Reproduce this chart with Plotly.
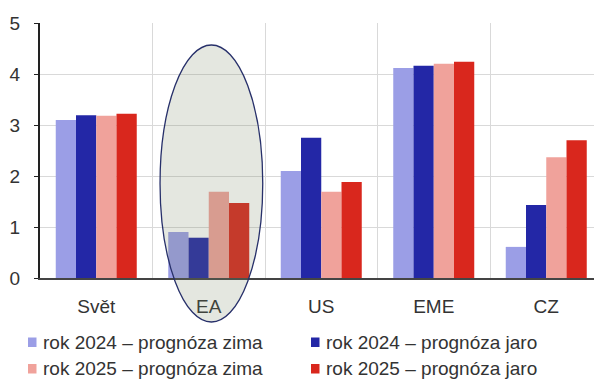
import plotly.graph_objects as go

categories = ["Svět", "EA", "US", "EME", "CZ"]
series_names = [
    "rok 2024 – prognóza zima",
    "rok 2024 – prognóza jaro",
    "rok 2025 – prognóza zima",
    "rok 2025 – prognóza jaro",
]
r2024_zima = [3.10, 0.90, 2.10, 4.12, 0.61]
r2024_jaro = [3.19, 0.79, 2.75, 4.16, 1.43]
r2025_zima = [3.18, 1.69, 1.69, 4.20, 2.37]
r2025_jaro = [3.22, 1.47, 1.88, 4.24, 2.70]
series_values = [r2024_zima, r2024_jaro, r2025_zima, r2025_jaro]
colors = ["#9b9ee6", "#2327a6", "#f0a29b", "#d9271d"]
y_ticks = [0, 1, 2, 3, 4, 5]

FONT = "Liberation Sans, Arial, sans-serif"
W, H = 594, 383
ML, MR, MT, MB = 40, 0, 23, 105
PW, PH = W - ML - MR, H - MT - MB

fig = go.Figure()
for name, vals, col in zip(series_names, series_values, colors):
    fig.add_trace(go.Bar(x=categories, y=vals, name=name, marker=dict(color=col, line=dict(width=0)),
                         showlegend=False))

cat_w = 112.5
fig.update_layout(
    width=W, height=H,
    margin=dict(l=ML, r=MR, t=MT, b=MB, autoexpand=False),
    paper_bgcolor="white", plot_bgcolor="white",
    barmode="group", bargap=0.28, bargroupgap=0,
    font=dict(family=FONT, size=19, color="#333333"),
    xaxis=dict(range=[-0.5, -0.5 + PW / cat_w], tickson="boundaries", showgrid=True,
               gridcolor="#d9d9d9", gridwidth=1, showline=True, linecolor="#444444", linewidth=2,
               ticks="", tickfont=dict(size=19, color="#333333"), ticklabelstandoff=10,
               automargin=False, fixedrange=True),
    yaxis=dict(range=[0, 5], tickvals=y_ticks, showgrid=True, gridcolor="#d9d9d9", gridwidth=1,
               showline=True, linecolor="#222222", linewidth=2, ticks="outside", ticklen=4,
               tickcolor="#222222", tickfont=dict(size=19, color="#333333"), ticklabelstandoff=10,
               zeroline=False, automargin=False, fixedrange=True),
)

def py2paper(py):
    return (MT + PH - py) / PH

def px2paper(px):
    return (px - ML) / PW

# highlight ellipse around EA
ea = categories.index("EA")
fig.add_shape(type="circle", xref="x", yref="paper",
              x0=ea - 0.433, x1=ea + 0.48, y0=py2paper(322), y1=py2paper(45),
              fillcolor="rgba(120,135,100,0.20)", line=dict(color="#27306a", width=1.3),
              layer="above")

# legend drawn below the chart
leg_pos = [(28, 342), (311, 342), (28, 368.5), (311, 368.5)]
for (lx, ly), name, col in zip(leg_pos, series_names, colors):
    fig.add_shape(type="rect", xref="paper", yref="paper",
                  x0=px2paper(lx), x1=px2paper(lx + 8.5), y0=py2paper(ly + 5), y1=py2paper(ly - 4.5),
                  fillcolor=col, line=dict(width=0))
    fig.add_annotation(xref="paper", yref="paper", x=px2paper(lx + 13), y=py2paper(ly),
                       text=name, showarrow=False, xanchor="left", yanchor="middle",
                       font=dict(family=FONT, size=19, color="#333333"))

fig.write_html("out.html", config={"displayModeBar": False, "staticPlot": True},
               post_script="document.body.style.margin='0';document.body.style.overflow='hidden';")
